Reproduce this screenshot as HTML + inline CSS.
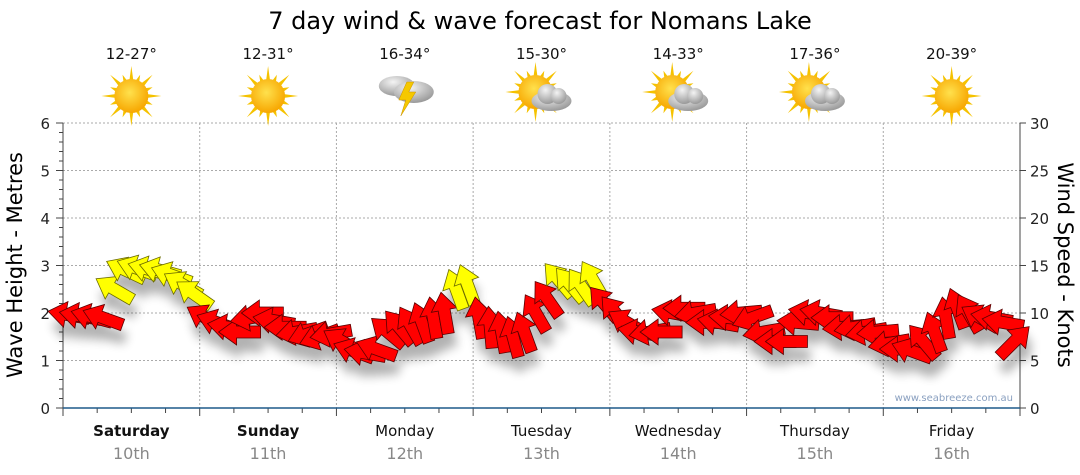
<!DOCTYPE html>
<html><head><meta charset="utf-8"><style>
body{margin:0;background:#fff;width:1080px;height:475px;overflow:hidden}
svg{display:block;font-family:"DejaVu Sans","Liberation Sans",sans-serif}
</style></head><body>
<svg id="c" width="1080" height="475">
<defs>
<filter id="sh" x="-50%" y="-50%" width="200%" height="200%"><feGaussianBlur stdDeviation="5"/></filter>
<radialGradient id="sun" cx="45%" cy="40%" r="60%"><stop offset="0" stop-color="#ffe14d"/><stop offset="1" stop-color="#f7a600"/></radialGradient>
<radialGradient id="cl" cx="40%" cy="30%" r="70%"><stop offset="0" stop-color="#f4f4f4"/><stop offset="1" stop-color="#9a9a9a"/></radialGradient>
</defs>
<text x="540" y="29" text-anchor="middle" font-size="24" fill="#000">7 day wind &amp; wave forecast for Nomans Lake</text>
<g id="grid"></g>
<g id="shadows" filter="url(#sh)" opacity="0.3"></g>
<g id="arrows"></g>
<g id="topg"></g>
<text x="1013" y="401" text-anchor="end" font-size="10" fill="#8aa0c0">www.seabreeze.com.au</text>
<text transform="translate(22,265) rotate(-90)" text-anchor="middle" font-size="21">Wave Height - Metres</text>
<text transform="translate(1058,265) rotate(90)" text-anchor="middle" font-size="21">Wind Speed - Knots</text>
</svg>
<script>
const days=["Saturday","Sunday","Monday","Tuesday","Wednesday","Thursday","Friday"];
const dates=["10th","11th","12th","13th","14th","15th","16th"];
const temps=["12-27°","12-31°","16-34°","15-30°","14-33°","17-36°","20-39°"];
const icons=["sun","sun","storm","partly","partly","partly","sun"];
const waveTicks=[0,1,2,3,4,5,6];
const windTicks=[0,5,10,15,20,25,30];
// wind speed (knots), 2-hourly
const windSpeed=[
9.8,9.7,9.6,9.5,12.5,14.5,14.7,14.6,14.5,14,13,12,
9.5,9,8.5,8,9.5,10,9.2,8.5,8,7.8,7.5,7.8,
7,6,5.8,6.2,8,8.5,8.7,9,9.5,10,12.5,13,
9.5,8.5,8,7.5,8,10,11.5,13.5,13,12.8,13.5,11,
10,9,8,8,8,10,10.5,10,9,9,9.5,10,
9.5,8,7,7,9,10,10,9.5,8.5,8.5,8,8,
6.8,6.2,6,7,8,9.5,10.5,10,9.5,9.5,9,7];
// arrow pointing direction (degrees, 180 = left, 90 = up)
const windDir=[
170,170,165,160,150,155,160,165,165,160,150,145,
150,160,170,180,190,180,170,180,190,200,200,190,
150,160,170,160,140,130,120,110,100,100,110,110,
100,95,100,105,110,120,125,130,130,125,120,130,
130,150,170,190,180,170,180,190,180,170,175,185,
200,190,180,180,175,170,170,180,185,190,190,185,
190,180,160,130,110,100,110,120,150,170,170,45];
const X0=63,X1=1020,Y0=408,Y1=123;
const xs=i=>X0+(i+0.5)*(X1-X0)/windSpeed.length;
const yW=v=>Y0-v/30*(Y0-Y1);
const yH=v=>Y0-v/6*(Y0-Y1);
const NS="http://www.w3.org/2000/svg";
function mk(tag,at,par){const e=document.createElementNS(NS,tag);for(const k in at)e.setAttribute(k,at[k]);par.appendChild(e);return e;}
const gridG=document.getElementById('grid');
const dw=(X1-X0)/7;
waveTicks.forEach(t=>{
 if(t>0){const l=mk('line',{x1:X0,x2:X1,y1:yH(t),y2:yH(t),stroke:'#aaa','stroke-dasharray':'2,2'},gridG);
 
 }
 const tx=mk('text',{x:50,y:yH(t)+6,'text-anchor':'end','font-size':15,fill:'#222'},gridG);tx.textContent=t;
 
 
});
for(let k=0;k<=30;k++){mk('line',{x1:k%5==0?56:59,x2:63,y1:yH(k*0.2),y2:yH(k*0.2),stroke:'#444'},gridG);}
windTicks.forEach(t=>{
 mk('line',{x1:1020,x2:1026,y1:yW(t),y2:yW(t),stroke:'#444'},gridG);
 const tx=mk('text',{x:1030,y:yW(t)+6,'font-size':15,fill:'#222'},gridG);tx.textContent=t;
 
 
});
mk('line',{x1:X0,x2:X0,y1:Y1,y2:Y0,stroke:'#444'},gridG);
mk('line',{x1:X1,x2:X1,y1:Y1,y2:Y0,stroke:'#444'},gridG);
for(let d=1;d<7;d++){const x=X0+d*dw;const l=mk('line',{x1:x,x2:x,y1:Y1,y2:Y0,stroke:'#aaa','stroke-dasharray':'2,2'},gridG);
 
 }
for(let q=0;q<=28;q++){const x=X0+q*dw/4;mk('line',{x1:x,x2:x,y1:Y0,y2:Y0+(q%4==0?8:5),stroke:'#444'},gridG);}
mk('line',{x1:X0,x2:X1,y1:Y0,y2:Y0,stroke:'#1f5a8a','stroke-width':1.5},gridG);
const topG=document.getElementById('topg');
days.forEach((d,i)=>{
 const cx=X0+(i+0.5)*dw;
 const t=mk('text',{x:cx,y:436,'text-anchor':'middle','font-size':15,'font-weight':i<2?'bold':'normal',fill:'#111'},topG);t.textContent=d;
 
 
 const t2=mk('text',{x:cx,y:459,'text-anchor':'middle','font-size':16,fill:'#888'},topG);t2.textContent=dates[i];
 
 
 const t3=mk('text',{x:cx,y:59,'text-anchor':'middle','font-size':15,fill:'#111'},topG);t3.textContent=temps[i];
 
 
 const ic=mk('g',{transform:`translate(${cx},96)`},topG);
 
 
 if(icons[i]!='storm'){
  const sx=icons[i]=='partly'?-6:0, sy=icons[i]=='partly'?-4:0;
  for(let k=0;k<16;k++){const a=k*Math.PI/8,r=k%2?23:30;
   mk('polygon',{points:`${sx+Math.cos(a-0.12)*16},${sy+Math.sin(a-0.12)*16} ${sx+Math.cos(a)*r},${sy+Math.sin(a)*r} ${sx+Math.cos(a+0.12)*16},${sy+Math.sin(a+0.12)*16}`,fill:'#f5c200'},ic);}
  mk('circle',{cx:sx,cy:sy,r:17,fill:'url(#sun)'},ic);
  if(icons[i]=='partly'){mk('ellipse',{cx:10,cy:5,rx:20,ry:10,fill:'url(#cl)'},ic);mk('circle',{cx:6,cy:-2,r:10,fill:'url(#cl)'},ic);mk('circle',{cx:17,cy:0,r:8,fill:'url(#cl)'},ic);}
 }else{
  mk('ellipse',{cx:-8,cy:-10,rx:18,ry:10,fill:'url(#cl)'},ic);
  mk('ellipse',{cx:9,cy:-4,rx:20,ry:11,fill:'url(#cl)'},ic);
  mk('polygon',{points:'2,-14 -6,4 1,4 -4,20 11,-4 4,-4 9,-14',fill:'#f5c800',stroke:'#c89000','stroke-width':0.5},ic);
 }
});
const arrG=document.getElementById('arrows'),shG=document.getElementById('shadows');
function arrowPts(){return "21,0 3,-13 3,-6 -21,-6 -21,6 3,6 3,13";}
windSpeed.forEach((v,i)=>{
 const x=xs(i),y=yW(v),r=-windDir[i];
 const col=v>=12?'#ffff00':'#ff0000',st=v>=12?'#6b6b00':'#5a0000';
 mk('polygon',{points:arrowPts(),transform:`translate(${x+3},${y+14}) rotate(${r})`,fill:'#000'},shG);
 const p=mk('polygon',{points:arrowPts(),transform:`translate(${x},${y}) rotate(${r})`,fill:col,stroke:st,'stroke-width':0.8},arrG);
 
 
});
</script>
</body></html>
